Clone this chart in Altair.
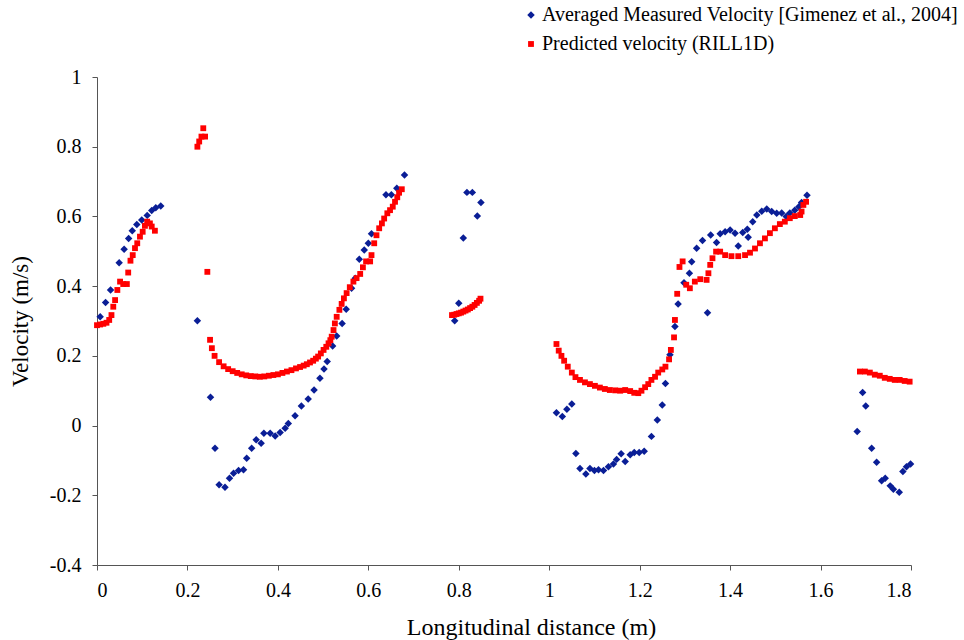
import altair as alt
import pandas as pd

series_names = ["Averaged Measured Velocity [Gimenez et al., 2004]", "Predicted velocity (RILL1D)"]
series_colors = ["#0A1E96", "#FF0000"]
series_shapes = ["diamond", "square"]

x_ticks = [0, 0.2, 0.4, 0.6, 0.8, 1, 1.2, 1.4, 1.6, 1.8]
y_ticks = [-0.4, -0.2, 0, 0.2, 0.4, 0.6, 0.8, 1]

meas_x = [0.007, 0.019, 0.030, 0.049, 0.060, 0.070, 0.078, 0.088, 0.099, 0.111, 0.121, 0.130, 0.141,
          0.222, 0.251, 0.261, 0.270, 0.283, 0.293, 0.302, 0.313, 0.324, 0.331, 0.342, 0.352, 0.363,
          0.369, 0.383, 0.394, 0.405, 0.416, 0.423, 0.438, 0.452, 0.467, 0.480, 0.493, 0.502, 0.509,
          0.521, 0.530, 0.542, 0.551, 0.563, 0.571, 0.580, 0.591, 0.600, 0.607, 0.639, 0.651, 0.663, 0.680,
          0.791, 0.800, 0.810, 0.818, 0.830, 0.841, 0.849,
          1.016, 1.029, 1.039, 1.050, 1.059, 1.068, 1.081, 1.090, 1.100, 1.109, 1.120, 1.131, 1.142,
          1.149, 1.159, 1.168, 1.179, 1.188, 1.199, 1.210, 1.226, 1.239, 1.250, 1.257, 1.267, 1.278,
          1.285, 1.298, 1.310, 1.315, 1.326, 1.339, 1.350, 1.357, 1.370, 1.378, 1.389, 1.400, 1.411,
          1.418, 1.428, 1.438, 1.440, 1.450, 1.459, 1.470, 1.481, 1.492, 1.503, 1.514, 1.524, 1.532,
          1.543, 1.552, 1.558, 1.570,
          1.681, 1.693, 1.700, 1.713, 1.724, 1.735, 1.743, 1.754, 1.761, 1.774, 1.782, 1.790, 1.799]
meas_y = [0.312, 0.353, 0.389, 0.467, 0.506, 0.537, 0.559, 0.577, 0.590, 0.603, 0.617, 0.625, 0.630,
          0.301, 0.081, -0.065, -0.170, -0.177, -0.151, -0.137, -0.129, -0.127, -0.094, -0.065, -0.041, -0.051,
          -0.022, -0.022, -0.030, -0.020, -0.008, 0.006, 0.028, 0.056, 0.076, 0.102, 0.136, 0.162, 0.184,
          0.228, 0.257, 0.293, 0.334, 0.394, 0.423, 0.477, 0.504, 0.523, 0.550, 0.662, 0.662, 0.681, 0.719,
          0.301, 0.351, 0.538, 0.669, 0.669, 0.601, 0.640,
          0.037, 0.026, 0.047, 0.062, -0.080, -0.123, -0.139, -0.123, -0.129, -0.127, -0.129, -0.118, -0.110,
          -0.097, -0.081, -0.103, -0.084, -0.077, -0.077, -0.074, -0.031, 0.016, 0.059, 0.121, 0.203, 0.284,
          0.349, 0.410, 0.437, 0.470, 0.509, 0.531, 0.324, 0.547, 0.525, 0.550, 0.556, 0.561, 0.552,
          0.515, 0.554, 0.563, 0.540, 0.585, 0.604, 0.615, 0.621, 0.614, 0.609, 0.610, 0.600, 0.610,
          0.618, 0.628, 0.640, 0.661,
          -0.017, 0.095, 0.056, -0.065, -0.105, -0.158, -0.151, -0.173, -0.183, -0.191, -0.132, -0.118, -0.110]

pred_x = [0.000, 0.007, 0.014, 0.021, 0.027, 0.032, 0.036, 0.040, 0.045, 0.051, 0.058, 0.066, 0.069,
          0.074, 0.079, 0.084, 0.089, 0.095, 0.101, 0.106, 0.111, 0.117, 0.121, 0.128,
          0.222, 0.226, 0.231, 0.239, 0.235, 0.244, 0.250, 0.254, 0.260, 0.270, 0.280, 0.290, 0.300,
          0.310, 0.320, 0.330, 0.340, 0.350, 0.360, 0.370, 0.380, 0.390, 0.400, 0.410, 0.420, 0.430,
          0.440, 0.449, 0.457, 0.464, 0.471, 0.478, 0.484, 0.489, 0.495, 0.501, 0.507, 0.512, 0.516,
          0.519, 0.523, 0.526, 0.530, 0.536, 0.541, 0.546, 0.552, 0.559, 0.567, 0.574, 0.582, 0.588,
          0.595, 0.604, 0.607, 0.613, 0.618, 0.624, 0.630, 0.635, 0.642, 0.648, 0.654, 0.659, 0.664,
          0.668, 0.674,
          0.785, 0.790, 0.795, 0.800, 0.805, 0.810, 0.815, 0.820, 0.825, 0.830, 0.835, 0.840, 0.845, 0.848,
          1.016, 1.021, 1.027, 1.033, 1.041, 1.050, 1.058, 1.068, 1.079, 1.090, 1.101, 1.112, 1.123,
          1.134, 1.146, 1.157, 1.168, 1.179, 1.188, 1.197, 1.204, 1.212, 1.219, 1.226, 1.234, 1.241,
          1.250, 1.257, 1.265, 1.269, 1.276, 1.278, 1.283, 1.288, 1.295, 1.303, 1.311, 1.322, 1.334,
          1.348, 1.352, 1.356, 1.361, 1.369, 1.378, 1.389, 1.403, 1.418, 1.433, 1.444, 1.455, 1.466,
          1.477, 1.488, 1.499, 1.510, 1.521, 1.532, 1.543, 1.555, 1.558, 1.562, 1.568,
          1.687, 1.698, 1.709, 1.720, 1.731, 1.742, 1.753, 1.764, 1.775, 1.786, 1.797]
pred_y = [0.288, 0.290, 0.292, 0.295, 0.303, 0.317, 0.341, 0.360, 0.389, 0.413, 0.406, 0.406, 0.439,
          0.473, 0.489, 0.509, 0.523, 0.542, 0.556, 0.573, 0.585, 0.580, 0.571, 0.559,
          0.800, 0.815, 0.829, 0.829, 0.853, 0.441, 0.246, 0.222, 0.200, 0.182, 0.170, 0.162, 0.156,
          0.151, 0.147, 0.144, 0.142, 0.141, 0.140, 0.141, 0.143, 0.145, 0.147, 0.151, 0.155, 0.159,
          0.164, 0.168, 0.172, 0.176, 0.181, 0.186, 0.192, 0.198, 0.207, 0.217, 0.226, 0.236, 0.245,
          0.255, 0.274, 0.293, 0.312, 0.332, 0.349, 0.365, 0.380, 0.397, 0.413, 0.423, 0.435, 0.454,
          0.471, 0.471, 0.489, 0.523, 0.546, 0.566, 0.580, 0.594, 0.609, 0.618, 0.628, 0.642, 0.655,
          0.668, 0.678,
          0.317, 0.318, 0.320, 0.322, 0.324, 0.327, 0.330, 0.333, 0.337, 0.341, 0.346, 0.352, 0.358, 0.364,
          0.234, 0.215, 0.200, 0.186, 0.169, 0.152, 0.139, 0.131, 0.124, 0.119, 0.114, 0.109, 0.105,
          0.102, 0.101, 0.100, 0.102, 0.099, 0.094, 0.093, 0.100, 0.110, 0.119, 0.131, 0.140, 0.152,
          0.161, 0.169, 0.190, 0.217, 0.253, 0.303, 0.378, 0.455, 0.471, 0.404, 0.394, 0.413, 0.420,
          0.418, 0.437, 0.461, 0.480, 0.499, 0.499, 0.489, 0.486, 0.486, 0.489, 0.496, 0.508, 0.523,
          0.537, 0.552, 0.566, 0.578, 0.585, 0.595, 0.601, 0.604, 0.614, 0.633, 0.642,
          0.155, 0.155, 0.152, 0.146, 0.143, 0.137, 0.134, 0.131, 0.131, 0.128, 0.126]

df = pd.concat([
    pd.DataFrame({"x": meas_x, "y": meas_y, "series": series_names[0]}),
    pd.DataFrame({"x": pred_x, "y": pred_y, "series": series_names[1]}),
], ignore_index=True)

FONT = "Liberation Serif"

legend_opts = dict(title=None, orient="none", legendX=424, legendY=-72,
                   labelFont=FONT, labelFontSize=20, labelColor="black", labelLimit=0,
                   symbolSize=30, labelOffset=1, rowPadding=9, padding=0)

chart = alt.Chart(df).mark_point(filled=True, opacity=1, strokeWidth=0).encode(
    x=alt.X("x:Q",
            scale=alt.Scale(domain=[0, 1.8], nice=False, zero=False),
            axis=alt.Axis(values=x_ticks, labelExpr="'' + datum.value",
                          title="Longitudinal distance (m)",
                          titleX=434, titleY=62, titleBaseline="middle", titleAlign="center",
                          titleFontSize=24,
                          tickSize=5, labelPadding=10, grid=False)),
    y=alt.Y("y:Q",
            scale=alt.Scale(domain=[-0.4, 1], nice=False, zero=False),
            axis=alt.Axis(values=y_ticks, labelExpr="'' + datum.value",
                          title="Velocity (m/s)",
                          titleX=-77, titleY=244, titleBaseline="middle", titleAlign="center",
                          tickSize=5, labelPadding=11, grid=False)),
    color=alt.Color("series:N",
                    scale=alt.Scale(domain=series_names, range=series_colors),
                    legend=alt.Legend(**legend_opts)),
    shape=alt.Shape("series:N",
                    scale=alt.Scale(domain=series_names, range=series_shapes),
                    legend=alt.Legend(**legend_opts)),
    size=alt.Size("series:N",
                  scale=alt.Scale(domain=series_names, range=[56, 34]),
                  legend=None),
).properties(
    width=814, height=488,
    padding={"left": 97, "top": 77, "right": 53, "bottom": 75},
    autosize=alt.AutoSizeParams(type="none"),
    background="white",
).configure_view(
    stroke=None
).configure_axis(
    labelFont=FONT, labelFontSize=20, labelColor="black",
    titleFont=FONT, titleFontSize=23, titleFontWeight="normal", titleColor="black",
    domainColor="#555555", tickColor="#555555",
)

chart.save("out.html", embed_options={"renderer": "svg", "actions": False})
